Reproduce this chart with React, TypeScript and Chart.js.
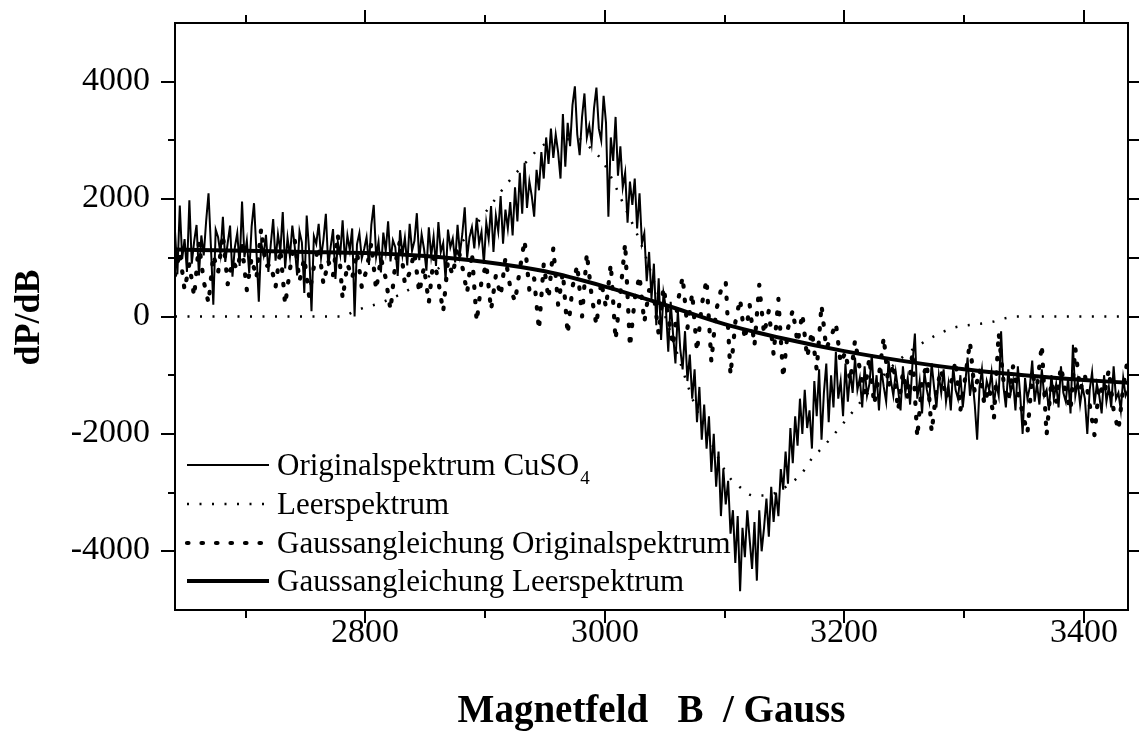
import { useEffect, useRef } from 'react';
import { Chart, registerables } from 'chart.js';

Chart.register(...registerables);

// Field sweep (Gauss): recorded spectra share a uniform grid starting here
const fieldStart = 2641;
const fieldEnd = 3437;
const signalMin = -5000;
const signalMax = 5000;

// Originalspektrum CuSO4, sampled every 2 G
const originalStep = 2;
const originalSpectrum = [
  1450, 720, 1890, 980, 1320, 760, 1980, 900, 1280, 1560, 700, 1380, 1040, 1620, 2100, 1190, 200, 1480, 1350, 1060,
  1700, 930, 1250, 1550, 680, 1180, 1420, 860, 1960, 1010, 1290, 740, 1530, 1930, 1120, 250, 1260, 1050, 1390, 760,
  1230, 1660, 950, 1400, 1110, 1780, 820, 1340, 1020, 1550, 1190, 700, 1450, 1260, 400, 1720, 1130, 90, 1370, 1240,
  1580, 1000, 1310, 1750, 860, 1180, 1490, 640, 1270, 1050, 1640, 920, 1380, 1130, 1500, 0, 1230, 1420, 990, 1150,
  1350, 880, 1560, 1900, 1020, 1270, 750, 1430, 1110, 1620, 940, 1300, 1180, 690, 1470, 1050, 1340, 870, 1580, 1120,
  1290, 1760, 960, 1400, 1150, 780, 1520, 1030, 1360, 860, 1610, 1100, 1250, 620, 1480, 1180, 1330, 920, 1560, 1070,
  1410, 1860, 1000, 1350, 1520, 1160, 1680, 1240, 1440, 900, 1600, 1320, 1880, 1100, 1720, 1450, 2050, 1240, 1820, 1500,
  1950, 1380, 2200, 1620, 2450, 1750, 2620, 1850, 2300, 2050, 1700, 2500, 2150, 2800, 2350, 3050, 2600, 3200, 2700, 3100,
  2800, 2350, 3450, 2550, 3300, 2900, 3600, 3920, 3100, 2750, 3400, 3800, 3050, 3250, 2950, 3550, 3900, 3200, 3000, 3760,
  3300, 1700, 3050, 2650, 3400, 2400, 2900, 2200, 2450, 1600, 2300, 1900, 2350, 1500, 2100, 1250, 1420, 600, 1100, 300,
  900, -150, 650, -400, 400, 150, -600, 250, -300, -800, 100, -550, -900, -250, -1100, -650, -1400, -900, -1800, -1200,
  -2100, -1500, -2250, -1700, -2650, -2000, -2900, -2300, -3400, -2600, -3200, -2800, -3700, -3300, -4200, -3400, -4680, -3600, -4100, -3300,
  -3800, -4300, -3500, -4500, -3300, -4000, -3600, -3100, -3750, -2900, -3500, -3000, -3400, -2600, -2950, -2300, -2850, -1900, -2500, -1700,
  -2200, -1400, -2000, -1250, -1900, -1600, -2250, -1100, -1700, -900, -2100, -1300, -800, -1800, -1000, -1550, -600, -1400, -1100, -1700,
  -800, -1450, -950, -1300, -700, -1250, -1050, -1550, -850, -1350, -1150, -650, -1400, -1000, -1600, -900, -1200, -1450, -750, -1100,
  -1350, -950, -1250, -1600, -850, -1300, -1050, -1500, -800, -290, -1400, -1100, -1650, -950, -1250, -1450, -800, -1200, -1550, -1000,
  -1300, -900, -1450, -1150, -1600, -850, -1250, -1400, -1000, -1550, -1150, -700, -1350, -1050, -1500, -2100, -1200, -900, -1450, -1100,
  -1250, -950, -1500, -1150, -1350, -250, -1200, -1550, -900, -1300, -1100, -1600, -850, -1350, -2000, -1050, -1400, -1200, -750, -1450,
  -1150, -1500, -900, -1350, -1250, -1600, -1000, -1400, -1150, -1550, -850, -1300, -1450, -1050, -1650, -480, -1350, -1100, -1500, -1200,
  -1400, -2000, -1250, -950, -1500, -1150, -1350, -1650, -1000, -1450, -1200, -1550, -850, -1400, -1300, -1600, -1050, -1350, -1250,
];

// Gaussangleichung Originalspektrum, sampled every 4 G
const fitStep = 4;
const gaussOriginal = [
  700, 1100, 450, 900, 340, 1250, 600, 230, 1050, 750, 1400, 550, 950, 800, 1200, 450, 1000, 650, 1500, 850,
  900, 500, 1150, 200, 800, 1300, 600, 1000, 350, 850, 1200, 550, 950, 700, 1400, 300, 900, 650, 1100, 500,
  800, 1250, 450, 1000, 650, 110, 900, 1300, 550, 750, 1100, 400, 850, 230, 1000, 600, 80, 950, 700, 1200,
  850, 400, 1100, -90, 600, 900, 110, 700, 350, 1000, 500, 250, 800, 1300, 450, 650, -230, 900, 300, 1170,
  200, 750, -300, 500, 880, 0, 1080, 350, -150, 600, 150, 900, -400, 400, 1250, -520, 300, 700, -100, 450,
  350, -300, 500, 0, -500, 250, 680, -200, 400, -600, 200, 630, -770, 100, 450, 600, -1000, -100, 300, -400,
  200, -500, 540, -300, 100, -650, 300, -1050, -200, 110, -450, 50, -700, -250, -910, 200, -550, -350, -110, -800,
  -600, -1100, -400, -900, -1300, -700, -1500, -1000, -350, -1200, -800, -1600, -950, -1400, -600, -2060, -1100, -800, -1970, -1250,
  -900, -1400, -1150, -750, -1600, -1050, -430, -1300, -900, -1500, -1200, -1750, -280, -1100, -1450, -850, -1300, -1650, -1990, -1000,
  -1200, -480, -2020, -1100, -1450, -850, -1300, -1600, -540, -1250, -1000, -1500, -2020, -1150, -1350, -900, -1600, -1940, -1200, -690,
];

// Leerspektrum (smooth curve)
const emptyField = [
  2641, 2700, 2780, 2793, 2815, 2840, 2860, 2880, 2902, 2919, 2937, 2947, 2962, 2979, 2989, 2998,
  3010, 3015, 3030, 3045, 3060, 3075, 3090, 3103, 3113, 3124, 3134, 3145, 3156, 3165, 3173, 3182,
  3200, 3220, 3240, 3260, 3290, 3307, 3324, 3332, 3345, 3437,
];
const emptySpectrum = [
  0, 0, 0, 110, 250, 500, 800, 1250, 1820, 2280, 2690, 2900, 3010, 3020, 2850, 2650,
  2170, 1940, 1250, 350, -600, -1500, -2200, -2710, -2910, -3050, -3050, -2980, -2830, -2660, -2420, -2230,
  -1800, -1300, -850, -520, -200, -140, -90, -40, 0, 0,
];

// Gaussangleichung Leerspektrum (smooth baseline fit)
const gaussEmptyField = [2641, 2700, 2750, 2800, 2850, 2900, 2950, 3000, 3050, 3100, 3150, 3200, 3250, 3300, 3350, 3400, 3437];
const gaussEmpty = [1140, 1120, 1100, 1080, 1030, 930, 770, 510, 200, -130, -380, -590, -760, -900, -1000, -1080, -1130];

// Axis ticks: every tick gets a mark, the listed labels get text
const fieldTicks = [2700, 2800, 2900, 3000, 3100, 3200, 3300, 3400];
const fieldLabels = ['2800', '3000', '3200', '3400'];
const signalTicks = [-4000, -3000, -2000, -1000, 0, 1000, 2000, 3000, 4000];
const signalLabels = ['-4000', '-2000', '0', '2000', '4000'];

const xTitle = 'Magnetfeld   B  / Gauss';
const yTitle = 'dP/dB';

const legendEntries = [
  { text: 'Originalspektrum CuSO', sub: '4' },
  { text: 'Leerspektrum', sub: '' },
  { text: 'Gaussangleichung Originalspektrum', sub: '' },
  { text: 'Gaussangleichung Leerspektrum', sub: '' },
];

const serif = '"Liberation Serif", "Times New Roman", serif';

const gridSeries = (values: number[], step: number) =>
  values.map((v, i) => ({ x: fieldStart + i * step, y: v }));
const pairSeries = (xs: number[], ys: number[]) => xs.map((x, i) => ({ x, y: ys[i] }));

// Draws the boxed frame, outward tick marks, tick labels, axis titles and the legend
const framePlugin = {
  id: 'frameTicksLegend',
  afterDraw(chart: any) {
    const { ctx, chartArea: a, scales } = chart;
    const xs = scales.x;
    const ys = scales.y;
    ctx.save();
    ctx.strokeStyle = '#000';
    ctx.fillStyle = '#000';
    ctx.lineWidth = 2;
    ctx.setLineDash([]);
    ctx.lineCap = 'butt';
    ctx.strokeRect(a.left, a.top, a.right - a.left, a.bottom - a.top);
    const seg = (x1: number, y1: number, x2: number, y2: number) => {
      ctx.beginPath();
      ctx.moveTo(x1, y1);
      ctx.lineTo(x2, y2);
      ctx.stroke();
    };

    ctx.font = `34px ${serif}`;
    ctx.textBaseline = 'middle';
    for (const v of fieldTicks) {
      const px = Math.round(xs.getPixelForValue(v));
      const labelled = fieldLabels.includes(String(v));
      const len = labelled ? 13 : 8;
      seg(px, a.bottom, px, a.bottom + len);
      seg(px, a.top, px, a.top - len);
      if (labelled) {
        ctx.textAlign = 'center';
        ctx.fillText(String(v), px, a.bottom + 23);
      }
    }
    for (const v of signalTicks) {
      const py = Math.round(ys.getPixelForValue(v));
      const labelled = signalLabels.includes(String(v));
      const len = labelled ? 14 : 7;
      seg(a.left - len, py, a.left, py);
      seg(a.right, py, a.right + 12, py);
      if (labelled) {
        ctx.textAlign = 'right';
        ctx.fillText(String(v), a.left - 25, py - 1);
      }
    }

    // axis titles
    ctx.font = `bold 39px ${serif}`;
    ctx.textAlign = 'center';
    ctx.fillText(xTitle, (a.left + a.right) / 2, 712);
    ctx.save();
    ctx.translate(30, (a.top + a.bottom) / 2 + 1);
    ctx.rotate(-Math.PI / 2);
    ctx.font = `bold 36px ${serif}`;
    ctx.fillText(yTitle, 0, 0);
    ctx.restore();

    // legend
    const rowY = [465, 504, 543, 581];
    const x0 = 187;
    const x1 = 269;
    const order = [2, 1, 3, 0];
    legendEntries.forEach((entry, i) => {
      const ds = chart.data.datasets[order[i]];
      const y = rowY[i];
      ctx.lineWidth = ds.borderWidth;
      ctx.setLineDash(ds.borderDash || []);
      ctx.lineCap = ds.borderCapStyle || 'butt';
      seg(x0, y, x1, y);
      ctx.setLineDash([]);
      ctx.textBaseline = 'alphabetic';
      ctx.textAlign = 'left';
      ctx.font = `31px ${serif}`;
      ctx.fillText(entry.text, 277, y + 10);
      if (entry.sub) {
        const w = ctx.measureText(entry.text).width;
        ctx.font = `19px ${serif}`;
        ctx.fillText(entry.sub, 277 + w + 1, y + 19);
      }
    });
    ctx.restore();
  },
};

export default function App() {
  const canvasRef = useRef<HTMLCanvasElement | null>(null);

  useEffect(() => {
    document.body.style.margin = '0';
    const canvas = canvasRef.current;
    if (!canvas) return;
    const chart = new Chart(canvas, {
      type: 'line',
      data: {
        datasets: [
          {
            label: 'Gaussangleichung Leerspektrum',
            data: pairSeries(gaussEmptyField, gaussEmpty),
            borderColor: '#000',
            borderWidth: 4,
            pointRadius: 0,
            cubicInterpolationMode: 'monotone',
            order: 0,
          },
          {
            label: 'Leerspektrum',
            data: pairSeries(emptyField, emptySpectrum),
            borderColor: '#000',
            borderWidth: 2.5,
            borderDash: [2, 10.5],
            pointRadius: 0,
            cubicInterpolationMode: 'monotone',
            order: 1,
          },
          {
            label: 'Originalspektrum CuSO4',
            data: gridSeries(originalSpectrum, originalStep),
            borderColor: '#000',
            borderWidth: 2,
            pointRadius: 0,
            order: 2,
          },
          {
            label: 'Gaussangleichung Originalspektrum',
            data: gridSeries(gaussOriginal, fitStep),
            borderColor: '#000',
            borderWidth: 4.2,
            borderDash: [1.5, 13],
            borderCapStyle: 'round',
            borderJoinStyle: 'round',
            pointRadius: 0,
            order: 3,
          },
        ],
      } as any,
      options: {
        animation: false,
        responsive: false,
        devicePixelRatio: 1,
        events: [],
        layout: { padding: { top: 23, right: 11, left: 175, bottom: 126 } },
        plugins: { legend: { display: false }, tooltip: { enabled: false } },
        scales: {
          x: {
            type: 'linear',
            min: fieldStart,
            max: fieldEnd,
            afterFit: (s: any) => {
              s.height = 0;
            },
            grid: { display: false, drawTicks: false },
            border: { display: false },
            ticks: { display: false },
            title: { display: false },
          },
          y: {
            type: 'linear',
            min: signalMin,
            max: signalMax,
            afterFit: (s: any) => {
              s.width = 0;
            },
            grid: { display: false, drawTicks: false },
            border: { display: false },
            ticks: { display: false },
            title: { display: false },
          },
        },
      } as any,
      plugins: [framePlugin],
    });
    return () => chart.destroy();
  }, []);

  return (
    <div style={{ width: 1139, height: 736, background: '#fff' }}>
      <canvas ref={canvasRef} width={1139} height={736} />
    </div>
  );
}
